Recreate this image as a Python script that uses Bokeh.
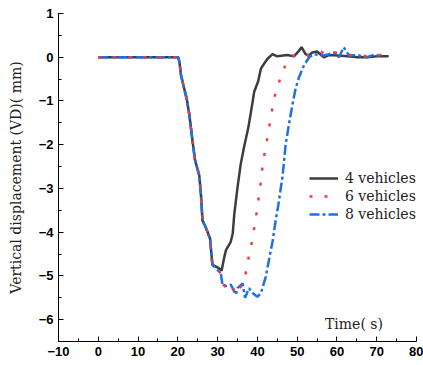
from bokeh.plotting import figure
from bokeh.models import Range1d, SingleIntervalTicker, Legend, LegendItem, Label
from bokeh.embed import file_html
from bokeh.resources import INLINE

# shared descent (all three loads coincide)
t_common = [0, 20.1, 20.4, 20.8, 21.4, 22.3, 22.9, 23.1, 23.7, 24.3, 25.4, 25.8, 26.2,
            26.8, 27.5, 28.1, 28.5, 28.7]
v_common = [0, 0, -0.11, -0.41, -0.64, -0.98, -1.32, -1.47, -1.92, -2.34, -2.71, -3.13, -3.73,
            -3.85, -4.0, -4.15, -4.56, -4.75]

t4_tail = [29.6, 30.4, 31.0, 31.7, 32.1, 33.3, 33.8, 34.2, 35.0, 35.8, 36.7, 37.7, 38.8, 39.2,
           40.2, 40.9, 41.3, 42.5, 43.8, 45.0, 47.5, 49.2, 50.5, 51.1, 52.1, 53.0, 53.8, 55.0,
           56.7, 58.0, 60.1, 62.6, 65.1, 67.6, 70.1, 73.0]
v4_tail = [-4.79, -4.83, -4.88, -4.56, -4.41, -4.22, -4.03, -3.58, -2.98, -2.45, -2.03, -1.62,
           -1.02, -0.79, -0.55, -0.26, -0.2, -0.04, 0.07, 0.02, 0.05, 0.02, 0.15, 0.23, 0.07,
           0.04, 0.11, 0.13, 0.0, 0.05, 0.04, 0.02, 0.0, 0.0, 0.02, 0.02]

t6_tail = [29.5, 30.8, 31.2, 32.0, 33.3, 34.6, 36.3, 37.3, 37.9, 38.7, 39.3, 39.9, 40.4, 40.9,
           41.3, 41.9, 42.5, 43.2, 43.9, 44.6, 45.9, 47.1, 48.8, 50.5, 52.6, 54.0, 55.9, 57.6,
           59.6, 61.5, 63.4, 65.0, 66.7, 68.5, 70.9, 72.0]
v6_tail = [-4.82, -4.94, -5.2, -5.22, -5.15, -5.43, -5.17, -4.86, -4.52, -4.19, -3.85, -3.5,
           -3.17, -2.83, -2.49, -2.15, -1.85, -1.47, -1.09, -0.79, -0.45, -0.17, 0.04, 0.0,
           0.04, 0.1, 0.13, 0.04, 0.11, 0.05, 0.05, 0.02, 0.02, 0.05, 0.05, 0.02]

t8_tail = [29.5, 30.8, 31.2, 31.7, 33.3, 34.6, 35.0, 36.3, 36.9, 37.9, 38.8, 40.0, 40.9, 42.1,
           42.9, 43.8, 44.6, 45.3, 45.9, 46.3, 47.1, 47.9, 48.8, 49.6, 50.5, 51.7, 53.0, 54.2,
           55.5, 56.7, 58.0, 59.2, 60.5, 61.7, 63.0, 65.1, 67.6, 69.7, 70.9]
v8_tail = [-4.82, -4.94, -5.2, -5.24, -5.2, -5.43, -5.28, -5.17, -5.5, -5.28, -5.39, -5.48,
           -5.39, -5.02, -4.64, -4.22, -3.73, -3.36, -2.98, -2.75, -2.0, -1.55, -1.09, -0.72,
           -0.45, -0.19, 0.0, 0.07, 0.05, 0.04, 0.07, 0.11, 0.0, 0.23, 0.04, 0.05, 0.0, 0.07, 0.0]

series_names = ["4 vehicles", "6 vehicles", "8 vehicles"]
x_ticks_interval = 10
y_ticks_interval = 1

t4 = t_common + t4_tail
v4 = v_common + v4_tail
t6 = t_common + t6_tail
v6 = v_common + v6_tail
t8 = t_common + t8_tail
v8 = v_common + v8_tail

p = figure(width=423, height=365, output_backend="svg", toolbar_location=None,
           x_range=Range1d(-10, 80), y_range=Range1d(-6.5, 1.0),
           min_border_left=58, min_border_right=7, min_border_top=13, min_border_bottom=24)
p.outline_line_color = None
p.xgrid.visible = False
p.ygrid.visible = False
p.background_fill_color = "white"
p.border_fill_color = "white"

r4 = p.line(t4, v4, line_color="#3d3d3d", line_width=2.5)
r8 = p.line(t8, v8, line_color="#1f6fe5", line_width=2.5, line_dash="10 3 3 3")
r6 = p.line(t6, v6, line_color="#f23c3c", line_width=2.5, line_dash="3 12")

p.xaxis.ticker = SingleIntervalTicker(interval=x_ticks_interval, num_minor_ticks=2)
p.yaxis.ticker = SingleIntervalTicker(interval=y_ticks_interval, num_minor_ticks=2)
for ax in (p.xaxis[0], p.yaxis[0]):
    ax.major_tick_in = 5
    ax.major_tick_out = 0
    ax.minor_tick_in = 3
    ax.minor_tick_out = 0
    ax.axis_line_color = "black"
    ax.major_tick_line_color = "black"
    ax.minor_tick_line_color = "black"
    ax.major_label_text_font = "Liberation Sans"
    ax.major_label_text_font_style = "bold"
    ax.major_label_text_font_size = "13px"
    ax.major_label_text_color = "black"
    ax.major_label_standoff = 5

p.yaxis.axis_label = "Vertical displacement (VD)( mm)"
p.yaxis.axis_label_text_font = "DejaVu Serif"
p.yaxis.axis_label_text_font_style = "normal"
p.yaxis.axis_label_text_font_size = "14px"
p.yaxis.axis_label_text_color = "#222222"
p.yaxis.axis_label_standoff = 12

p.add_layout(Label(x=57, y=-6.1, text="Time( s)", text_font="DejaVu Serif",
                   text_font_size="14px", text_color="#222222", text_baseline="middle"))

legend = Legend(items=[LegendItem(label=series_names[0], renderers=[r4]),
                       LegendItem(label=series_names[1], renderers=[r6]),
                       LegendItem(label=series_names[2], renderers=[r8])],
                location=(251, 118), orientation="vertical")
legend.background_fill_alpha = 0
legend.border_line_color = None
legend.padding = 0
legend.margin = 0
legend.spacing = 0
legend.glyph_width = 29
legend.glyph_height = 18
legend.label_height = 18
legend.label_standoff = 7
legend.label_text_font = "DejaVu Serif"
legend.label_text_font_size = "14px"
legend.label_text_color = "#222222"
p.add_layout(legend)

open("out.html", "w").write(file_html(p, INLINE))
